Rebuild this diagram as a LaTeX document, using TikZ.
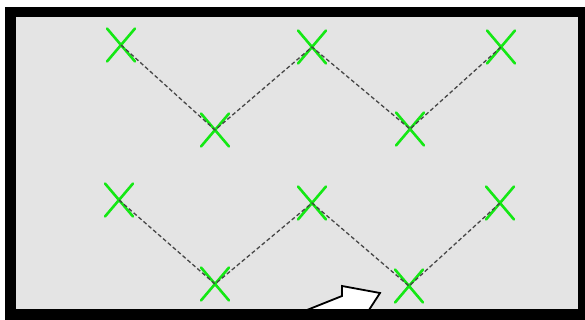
\documentclass[tikz,border=0pt]{standalone}
\usetikzlibrary{shapes.misc}
\definecolor{panel}{RGB}{228,228,228}
\definecolor{markgreen}{RGB}{20,232,20}
\definecolor{dashgray}{RGB}{70,70,70}
\tikzset{
  crossmark/.style={cross out, draw=markgreen, line width=2.6pt, line cap=round,
    minimum width=28pt, minimum height=33pt, inner sep=0pt, outer sep=0pt},
  link/.style={draw=dashgray, line width=1.3pt, dash pattern=on 4pt off 2.5pt},
  pointer/.style={draw=black, fill=white, line width=1.8pt, line join=miter}
}
\begin{document}
\begin{tikzpicture}[x=1pt,y=-1pt]
  \useasboundingbox (0,0) rectangle (585,320);
  \fill[white] (0,0) rectangle (585,320);
  % frame and panel
  \fill[black] (4.5,7.5) rectangle (585,320);
  \fill[panel] (16,17) rectangle (578,308.5);
  % block arrow, partly hidden by the lower frame edge
  \begin{scope}
    \clip (16,17) rectangle (578,308.5);
    \draw[pointer] (282,320) -- (342,296) -- (342,286) -- (380,293)
      -- (356,330) -- (300,345) -- cycle;
  \end{scope}
  % upper zigzag
  \node[crossmark] (a1) at (121,45) {};
  \node[crossmark] (a2) at (215,130) {};
  \node[crossmark] (a3) at (312,47) {};
  \node[crossmark] (a4) at (410,129) {};
  \node[crossmark] (a5) at (501,47) {};
  % lower zigzag
  \node[crossmark] (b1) at (119,200) {};
  \node[crossmark] (b2) at (215,284) {};
  \node[crossmark] (b3) at (312,203) {};
  \node[crossmark] (b4) at (409,286) {};
  \node[crossmark] (b5) at (500,203) {};
  \draw[link] (a1.center) -- (a2.center) -- (a3.center) -- (a4.center) -- (a5.center);
  \draw[link] (b1.center) -- (b2.center) -- (b3.center) -- (b4.center) -- (b5.center);
\end{tikzpicture}
\end{document}
